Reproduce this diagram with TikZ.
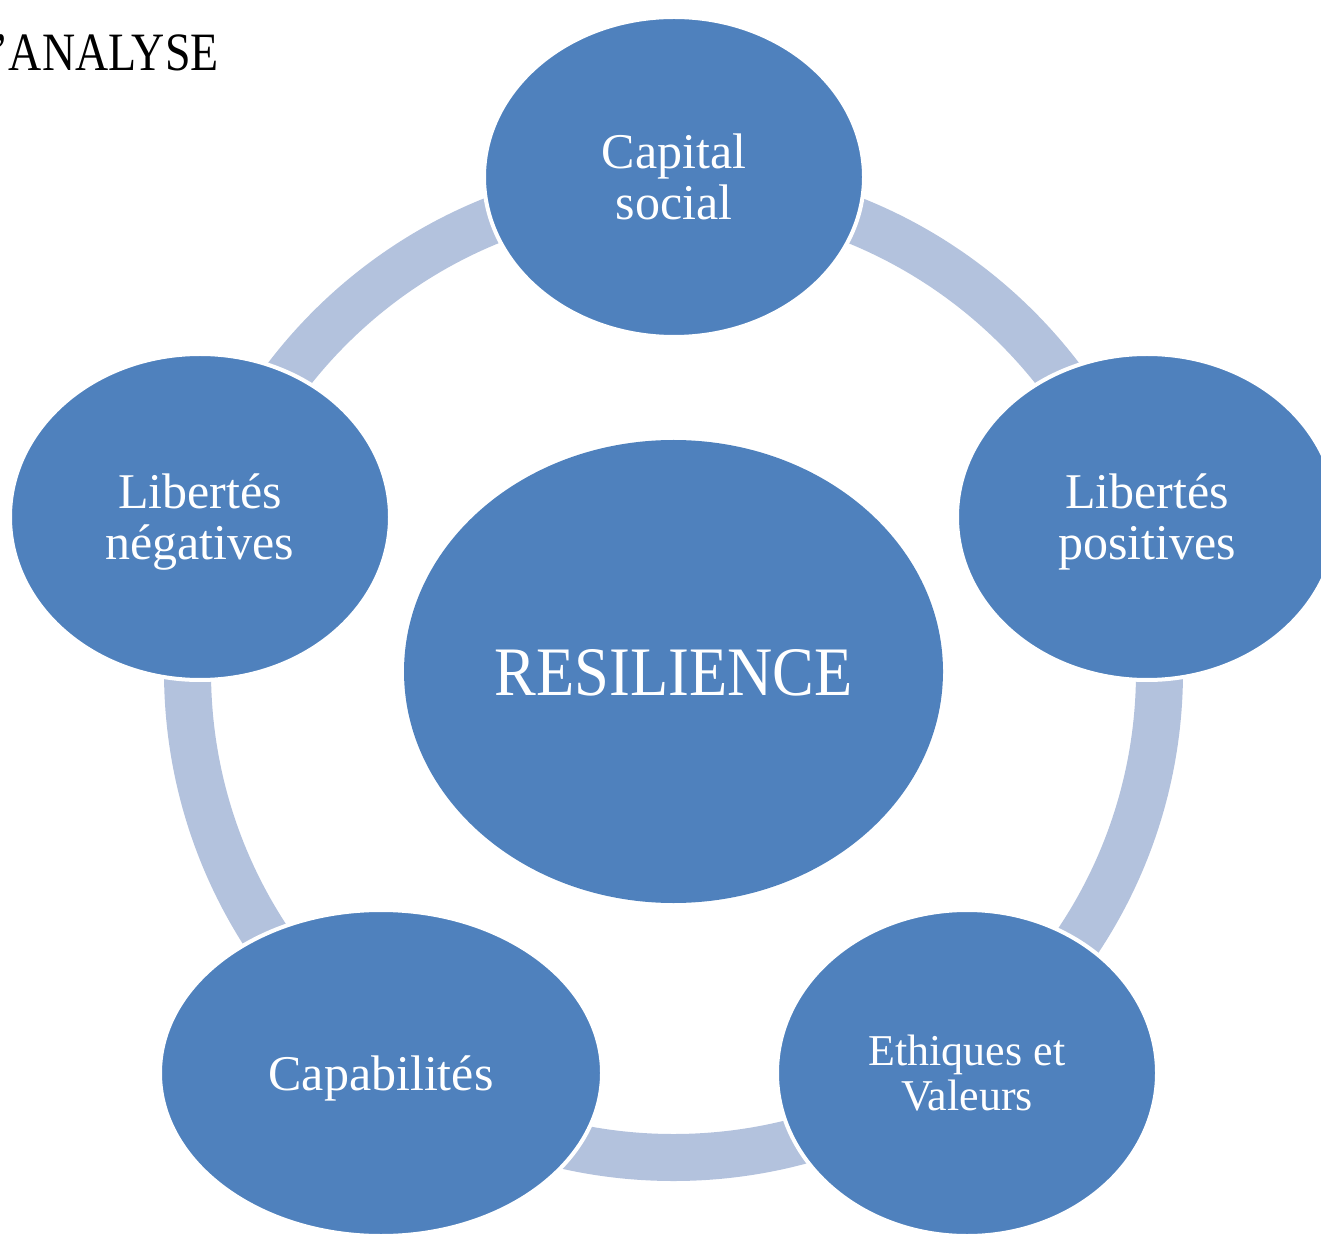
\documentclass[tikz,border=0pt]{standalone}
\usepackage{fontspec}
\setmainfont{Liberation Serif}
\usetikzlibrary{shapes.geometric}
\definecolor{nodeblue}{HTML}{4F81BD}
\definecolor{ringblue}{HTML}{B3C2DD}
\newcommand\sTop{\rule{0pt}{0.9em}}
\newcommand\sBot{\rule[-0.22em]{0pt}{0.22em}}
\begin{document}
\begin{tikzpicture}[x=0.5pt,y=-0.5pt,
  sat/.style={ellipse, fill=nodeblue, draw=white, line width=2pt, inner sep=0pt,
    text=white, align=center, font=\fontsize{25pt}{25.5pt}\selectfont},
  small/.style={font=\fontsize{22pt}{22.5pt}\selectfont},
  ring/.style={draw=ringblue, line width=23.5pt}
]
\useasboundingbox (0,0) rectangle (1321,1234);
\clip (0,0) rectangle (1321,1234);
\node[anchor=base east, inner sep=0pt, font=\fontsize{27pt}{30pt}\selectfont] (title) at (219,71) {\scalebox{0.85}[1]{D’ANALYSE}};
\node[ellipse, fill=nodeblue, minimum width=269.5pt, minimum height=231.5pt, inner sep=0pt,
  text=white, font=\fontsize{34.75pt}{36pt}\selectfont] (res) at (673.5,671.5) {\sTop\scalebox{0.9}[1]{RESILIENCE}\sBot};
\draw[ring] (res.center) circle[radius=486];
\node[sat, minimum width=190pt, minimum height=160pt] (cs) at (674,177) {\sTop Capital\\social\sBot};
\node[sat, minimum width=190pt, minimum height=163pt] (lp) at (1147,517) {\sTop Libertés\\positives\sBot};
\node[sat, small, minimum width=190pt, minimum height=163pt] (ev) at (967,1073) {\sTop Ethiques et\\Valeurs\sBot};
\node[sat, minimum width=221pt, minimum height=163pt] (cap) at (381,1073) {\sTop Capabilités\sBot};
\node[sat, minimum width=190pt, minimum height=163pt] (ln) at (200,517) {\sTop Libertés\\négatives\sBot};
\end{tikzpicture}
\end{document}
